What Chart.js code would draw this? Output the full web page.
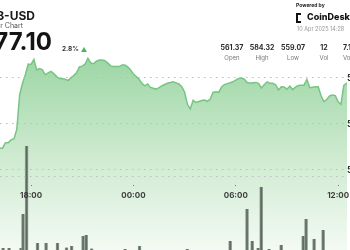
<!DOCTYPE html>
<html>
<head>
<meta charset="utf-8">
<script src="https://cdn.jsdelivr.net/npm/chart.js@4.4.1/dist/chart.umd.min.js"></script>
<style>
  html, body { margin: 0; padding: 0; width: 350px; height: 250px; overflow: hidden; background: #fff; }
  #wrap { position: relative; width: 350px; height: 250px; overflow: hidden; font-family: Inter, 'Noto Sans', sans-serif; }
  canvas { position: absolute; left: 0; top: 0; }
  .t { position: absolute; white-space: nowrap; line-height: 1; }
  .stat { position: absolute; width: 40px; text-align: center; line-height: 1; white-space: nowrap; }
  .val { font-size: 7px; font-weight: 700; color: #2a2a2a; }
  .lab { font-size: 6px; color: #777; }
</style>
</head>
<body>
<div id="wrap">
  <canvas id="chart" width="390" height="250"></canvas>

  <div class="t" style="right:315px; top:10px; font-size:12px; font-weight:700; color:#1b1b1b;">BNB-USD</div>
  <div class="t" style="right:327px; top:22px; font-size:7px; color:#555;">24 Hour Chart</div>
  <div class="t" style="right:298px; top:30px; font-size:24px; font-weight:700; color:#141414;">577.10</div>
  <div class="t" style="left:62px; top:46px; font-size:6.5px; font-weight:700; color:#333;">2.8%</div>
  <div style="position:absolute; left:81px; top:47px; width:0; height:0; border-left:3px solid transparent; border-right:3px solid transparent; border-bottom:5px solid #4cb560;"></div>

  <div class="t" style="left:296px; top:3px; font-size:5px; font-weight:700; color:#222;">Powered by</div>
  <div style="position:absolute; left:296px; top:13px; width:3px; height:6px; border:2px solid #111; border-right:none;"></div>
  <div class="t" style="left:307px; top:12px; font-size:9px; font-weight:800; color:#111;">CoinDesk Indices</div>
  <div class="t" style="left:297px; top:27px; font-size:5.5px; color:#999;">10 Apr 2025 14:28</div>

  <div class="stat" style="left:212px; top:36px;"><span class="val">561.37</span></div>
  <div class="stat" style="left:212px; top:46px;"><span class="lab">Open</span></div>
  <div class="stat" style="left:242px; top:36px;"><span class="val">584.32</span></div>
  <div class="stat" style="left:242px; top:46px;"><span class="lab">High</span></div>
  <div class="stat" style="left:273px; top:36px;"><span class="val">559.07</span></div>
  <div class="stat" style="left:273px; top:46px;"><span class="lab">Low</span></div>
  <div class="stat" style="left:304px; top:36px;"><span class="val">12</span></div>
  <div class="stat" style="left:304px; top:46px;"><span class="lab">Vol</span></div>
  <div class="t" style="left:343px; top:36px;"><span class="val">7.1M</span></div>
  <div class="t" style="left:343px; top:46px;"><span class="lab">Vol ($)</span></div>
</div>

<script>
// price every 10 minutes, starting 16:10 on 9 Apr (hours since midnight)
var startHour = 16 + 10 / 60;
var stepHours = 10 / 60;
var prices = [
  564.72, 564.74, 565.94, 565.94, 566.57, 566.74, 568.89, 576.37, 578.85, 580.70,
  583.02, 582.96, 584.02, 581.74, 582.04, 581.76, 580.70, 581.13, 581.44, 580.94,
  580.30, 579.87, 579.85, 579.76, 579.46, 580.02, 580.52, 581.11, 582.41, 582.57,
  583.04, 584.30, 583.26, 583.09, 583.67, 583.91, 583.89, 583.76, 583.24, 582.63,
  582.48, 582.50, 582.48, 582.85, 582.85, 582.44, 581.74, 580.87, 580.33, 579.72,
  578.83, 578.31, 578.72, 577.96, 577.76, 577.59, 577.89, 578.28, 578.59, 578.87,
  579.00, 579.17, 578.94, 578.70, 578.13, 576.96, 574.28, 573.28, 575.15, 574.67,
  574.89, 575.13, 575.22, 574.94, 575.39, 576.85, 577.02, 576.89, 578.04, 578.57,
  578.78, 578.96, 579.17, 579.54, 579.89, 579.98, 579.74, 579.02, 578.87, 578.98,
  579.04, 578.83, 577.83, 578.52, 579.17, 578.87, 578.85, 578.54, 577.41, 578.07,
  578.04, 577.57, 578.24, 577.48, 578.02, 578.35, 578.41, 578.44, 579.67, 577.91,
  578.00, 578.11, 578.11, 576.15, 574.85, 575.33, 576.13, 576.30, 576.17, 574.83,
  574.30, 578.39, 578.87, 578.94, 578.80
];

// volume bars (hour of day, volume)
var volHours = [16.36, 16.71, 17.41, 17.53, 17.74, 18.38, 18.88, 19.55, 20.08, 20.38,
                21.05, 21.23, 21.55, 23.51, 24.36, 27.15, 29.67, 30.66, 30.96, 31.31,
                31.49, 31.95, 32.66, 33.95, 34.12, 34.59, 35.12];
var volumes  = [0.2, 0.2, 0.2, 3.6, 10.4, 0.7, 0.7, 0.7, 0.25, 0.4,
                1.4, 1.5, 0.15, 0.1, 0.4, 0.1, 0.9, 4.1, 0.9, 0.2,
                6.3, 0.1, 0.5, 1.4, 3.1, 1.1, 2.0];

var timeTicks = [18, 24, 30, 36];
var priceTicks = [560, 570, 580];
var priceMin = 542.6, priceMax = 596.96;
var hourMin = 16.18, hourMax = 36.52;
var axisLineValue = 558.5;

var linePoints = prices.map(function (p, i) { return { x: startHour + i * stepHours, y: p }; });
var volPoints = volumes.map(function (v, i) { return { x: volHours[i], y: v }; });

function pad2(n) { return (n < 10 ? '0' : '') + n; }

var ctx = document.getElementById('chart').getContext('2d');
var chart = new Chart(ctx, {
    type: 'line',
    data: {
        datasets: [
            {
                type: 'bar',
                data: volPoints,
                xAxisID: 'x',
                yAxisID: 'v',
                backgroundColor: '#5e6b61',
                borderColor: '#8f9c92',
                borderWidth: { left: 1, right: 1, top: 0, bottom: 0 },
                barThickness: 3,
                grouped: false,
                order: 0
            },
            {
                data: linePoints,
                xAxisID: 'x',
                yAxisID: 'y',
                borderColor: '#77c584',
                borderWidth: 1.5,
                pointRadius: 0,
                tension: 0,
                fill: 'start',
                order: 1,
                backgroundColor: function (context) {
                    var c = context.chart;
                    var area = c.chartArea;
                    if (!area) return 'rgba(0,0,0,0)';
                    var top = c.scales.y.getPixelForValue(584.5);
                    var g = c.ctx.createLinearGradient(0, top, 0, area.bottom);
                    g.addColorStop(0, '#9dd6a4');
                    g.addColorStop(0.5, '#cdeacf');
                    g.addColorStop(1, '#f3faf3');
                    return g;
                }
            }
        ]
    },
    options: {
        responsive: false,
        animation: false,
        devicePixelRatio: 1,
        layout: { padding: 0 },
        plugins: {
            legend: { display: false },
            tooltip: { enabled: false }
        },
        scales: {
            x: {
                type: 'linear',
                min: hourMin,
                max: hourMax,
                offset: false,
                position: { y: axisLineValue },
                afterBuildTicks: function (s) {
                    s.ticks = timeTicks.map(function (t) { return { value: t }; });
                },
                afterFit: function (s) {
                    s.paddingLeft = 0;
                    s.paddingRight = 0;
                },
                ticks: {
                    z: 2,
                    autoSkip: false,
                    maxRotation: 0,
                    minRotation: 0,
                    padding: 4,
                    color: '#3d3d3d',
                    font: { family: 'Inter', size: 8, weight: 'bold' },
                    callback: function (v) { return pad2(v % 24) + ':00'; }
                },
                grid: {
                    offset: false,
                    drawOnChartArea: false,
                    drawTicks: true,
                    tickLength: 10,
                    tickColor: '#777',
                    tickBorderDash: [0, 8, 1, 20],
                    z: 1
                },
                border: { display: false }
            },
            y: {
                position: 'right',
                min: priceMin,
                max: priceMax,
                afterBuildTicks: function (s) {
                    s.ticks = [axisLineValue].concat(priceTicks).map(function (t) { return { value: t }; });
                },
                afterFit: function (s) {
                    s.width = 43;
                    s.paddingTop = 0;
                    s.paddingBottom = 0;
                },
                ticks: {
                    z: 2,
                    padding: 0,
                    color: '#333',
                    font: { family: 'Inter', size: 9, weight: 'bold' },
                    callback: function (v) { return priceTicks.indexOf(v) >= 0 ? v.toFixed(2) : ''; }
                },
                grid: {
                    z: 1,
                    color: '#bdbdbd',
                    drawTicks: false
                },
                border: { display: false, dash: [1.5, 4.5] }
            },
            v: {
                display: false,
                min: 0,
                max: 25
            }
        }
    }
});
</script>
</body>
</html>
